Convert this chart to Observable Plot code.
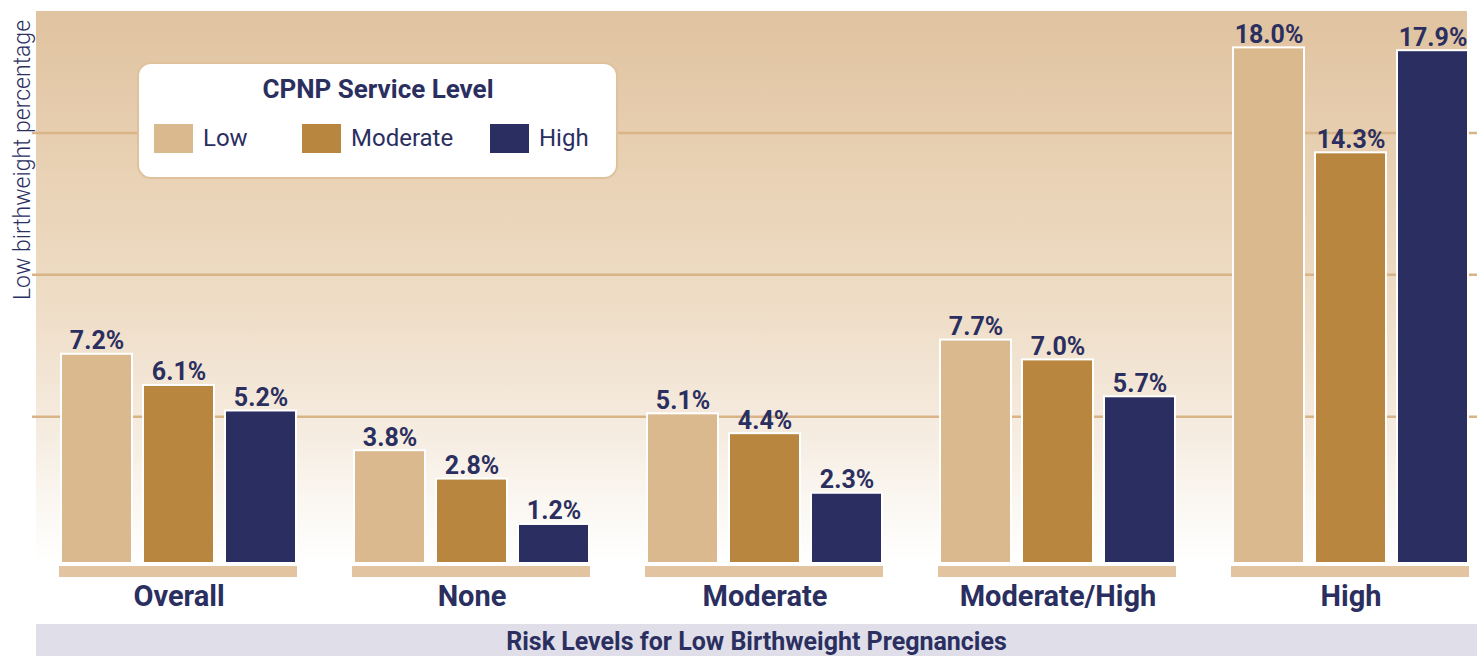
<!DOCTYPE html>
<html>
<head>
<meta charset="utf-8">
<script src="https://cdn.jsdelivr.net/npm/d3@7"></script>
<script src="https://cdn.jsdelivr.net/npm/@observablehq/plot@0.6"></script>
<style>
  html, body { margin: 0; padding: 0; background: #ffffff; }
  #wrap { position: relative; width: 1477px; height: 656px; overflow: hidden; font-family: Roboto, "Noto Sans", sans-serif; color: #2b2f5f; }
  #bg { position: absolute; left: 36px; top: 11px; width: 1431px; height: 553px;
        background: linear-gradient(to bottom, #e0c3a0 0%, #e9d2b5 30%, #efdec8 55%, #f5ebdf 75%, #fbf8f3 90%, #ffffff 100%); }
  #chart { position: absolute; left: 0; top: 0; }
  #ylabel { position: absolute; left: 22px; top: 160px; transform: translate(-50%, -50%) rotate(-90deg);
            white-space: nowrap; font-size: 23px; font-weight: 300; line-height: 23px; }
  #legendBox { position: absolute; left: 137px; top: 62px; width: 477px; height: 113px; background: #ffffff;
               border: 2.5px solid #dfc29c; border-radius: 14px; }
  #legendTitle { position: absolute; left: 137px; top: 76px; width: 482px; text-align: center;
                 font-size: 26px; font-weight: 700; line-height: 26px; }
  #legendRow { position: absolute; left: 154px; top: 123px; display: flex; align-items: center; height: 30px; }
  .item { display: flex; align-items: center; }
  .sw { width: 39px; height: 29px; margin-right: 10px; }
  .lab { font-size: 24px; line-height: 24px; font-weight: 400; }
  #band { position: absolute; left: 36px; top: 624px; width: 1441px; height: 32px; background: #dfdee9;
          text-align: center; font-size: 25px; font-weight: 700; line-height: 32px; padding-top: 2px; box-sizing: border-box; }
</style>
</head>
<body>
<div id="wrap">
  <div id="bg"></div>
  <div id="chart"></div>
  <div id="ylabel"></div>
  <div id="legendBox"></div>
  <div id="legendTitle"></div>
  <div id="legendRow"></div>
  <div id="band"></div>
</div>
<script>
// ---- data ----
const categories = ["Overall", "None", "Moderate", "Moderate/High", "High"];
const serviceLevels = ["Low", "Moderate", "High"];
const lowValues = [7.2, 3.8, 5.1, 7.7, 18.0];
const moderateValues = [6.1, 2.8, 4.4, 7.0, 14.3];
const highValues = [5.2, 1.2, 2.3, 5.7, 17.9];
const gridValues = [5, 10, 15];
const levelColors = ["#dbb98e", "#b8863e", "#2a2e60"];
const yLabel = "Low birthweight percentage";
const legendTitle = "CPNP Service Level";
const xTitle = "Risk Levels for Low Birthweight Pregnancies";

const navy = "#2b2f5f";
const seriesValues = [lowValues, moderateValues, highValues];
const rows = [];
categories.forEach((c, i) => {
  serviceLevels.forEach((s, j) => rows.push({category: c, level: s, value: seriesValues[j][i]}));
});

const chart = Plot.plot({
  width: 1477,
  height: 624,
  marginLeft: 31,
  marginRight: -20,
  marginTop: 19,
  marginBottom: 66,
  style: {background: "transparent", fontFamily: "Roboto, sans-serif", overflow: "hidden"},
  fx: {domain: categories, padding: 0, axis: null, label: null},
  x: {domain: serviceLevels, paddingInner: 0.13, paddingOuter: 0.34, axis: null},
  y: {domain: [0, 19], axis: null},
  color: {domain: serviceLevels, range: levelColors},
  marks: [
    Plot.ruleY(gridValues, {stroke: "#d8b487", strokeWidth: 2.5}),
    Plot.ruleY([0], {dy: 13, stroke: "#e2c4a0", strokeWidth: 11, insetLeft: 27, insetRight: 28}),
    Plot.barY(rows, {fx: "category", x: "level", y: "value", fill: "level",
                     stroke: "#ffffff", strokeWidth: 2, insetBottom: -5}),
    Plot.text(rows, {fx: "category", x: "level", y: "value",
                     text: d => d.value.toFixed(1) + "%",
                     dy: -5, lineAnchor: "bottom", fontSize: 25, fontWeight: 700, fill: navy}),
    Plot.text(categories, {fx: d => d, text: d => d, frameAnchor: "bottom", lineAnchor: "top",
                           dy: 27, fontSize: 29, fontWeight: 700, fill: navy})
  ]
});
document.getElementById("chart").appendChild(chart);

// ---- overlays ----
document.getElementById("ylabel").textContent = yLabel;
document.getElementById("legendTitle").textContent = legendTitle;
document.getElementById("band").textContent = xTitle;
const itemWidths = [148, 188, null];
const row = document.getElementById("legendRow");
serviceLevels.forEach((s, i) => {
  const it = document.createElement("div");
  it.className = "item";
  if (itemWidths[i]) it.style.width = itemWidths[i] + "px";
  const sw = document.createElement("div");
  sw.className = "sw";
  sw.style.background = chart.scale("color").apply(s);
  const lb = document.createElement("div");
  lb.className = "lab";
  lb.textContent = s;
  it.appendChild(sw); it.appendChild(lb);
  row.appendChild(it);
});
</script>
</body>
</html>
